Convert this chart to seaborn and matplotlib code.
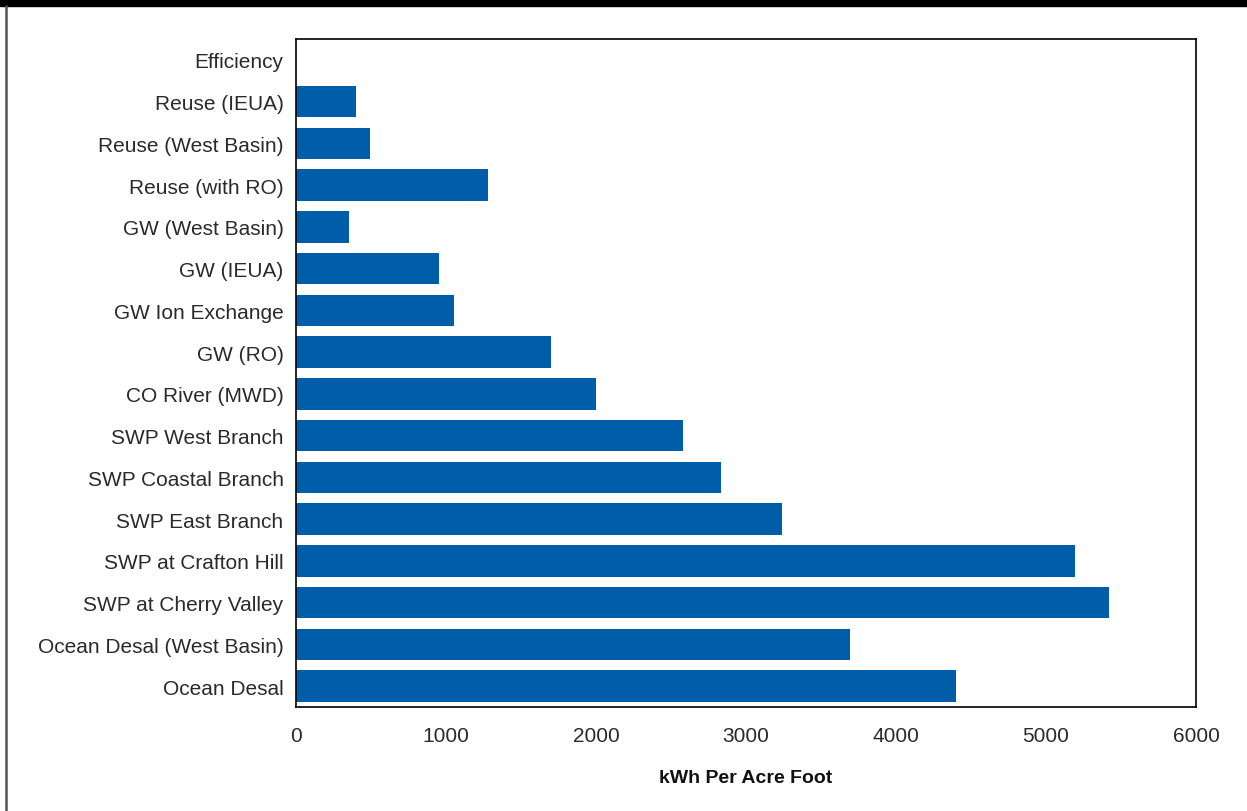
import pandas as pd
import matplotlib.pyplot as plt
import seaborn as sns
from matplotlib.patches import Rectangle
from matplotlib.lines import Line2D

sns.set_style("white")
plt.rcParams['font.family'] = ['Liberation Sans', 'DejaVu Sans']

# Data
sources = [
    "Efficiency", "Reuse (IEUA)", "Reuse (West Basin)", "Reuse (with RO)",
    "GW (West Basin)", "GW (IEUA)", "GW Ion Exchange", "GW (RO)",
    "CO River (MWD)", "SWP West Branch", "SWP Coastal Branch", "SWP East Branch",
    "SWP at Crafton Hill", "SWP at Cherry Valley", "Ocean Desal (West Basin)", "Ocean Desal",
]
kwh_per_af = [0, 400, 490, 1280, 350, 950, 1050, 1700,
              2000, 2580, 2830, 3240, 5190, 5420, 3690, 4400]

df = pd.DataFrame({"source": sources, "kwh": kwh_per_af})

fig = plt.figure(figsize=(12.47, 8.12), dpi=100)
ax = fig.add_axes([296 / 1247, 104 / 812, 900 / 1247, 668 / 812])

sns.barplot(data=df, x="kwh", y="source", orient="h", color="#005DAA",
            saturation=1, width=0.75, linewidth=0, ax=ax)

ax.set_xlim(0, 6000)
ax.set_ylim(15.5, -0.5)
ax.set_xticks(range(0, 6001, 1000))
ax.set_xlabel("kWh Per Acre Foot", fontsize=14, fontweight="bold", labelpad=17,
              color="#111111")
ax.set_ylabel("")
ax.tick_params(axis="both", length=0, labelsize=15, colors="#2a2a2a")
ax.tick_params(axis="y", pad=9)
ax.tick_params(axis="x", pad=14)
for s in ax.spines.values():
    s.set_visible(True)
    s.set_color("black")
    s.set_linewidth(1.2)

# page decorations: black bar on top, grey rule on the left
fig.patches.append(Rectangle((0, 1 - 7 / 812), 1, 7 / 812, transform=fig.transFigure,
                             color="black", zorder=0))
fig.lines.append(Line2D([6 / 1247, 6 / 1247], [0, 1 - 7 / 812], transform=fig.transFigure,
                        color="#555555", linewidth=1.8))

fig.savefig("out.png", dpi=100)
plt.close()
